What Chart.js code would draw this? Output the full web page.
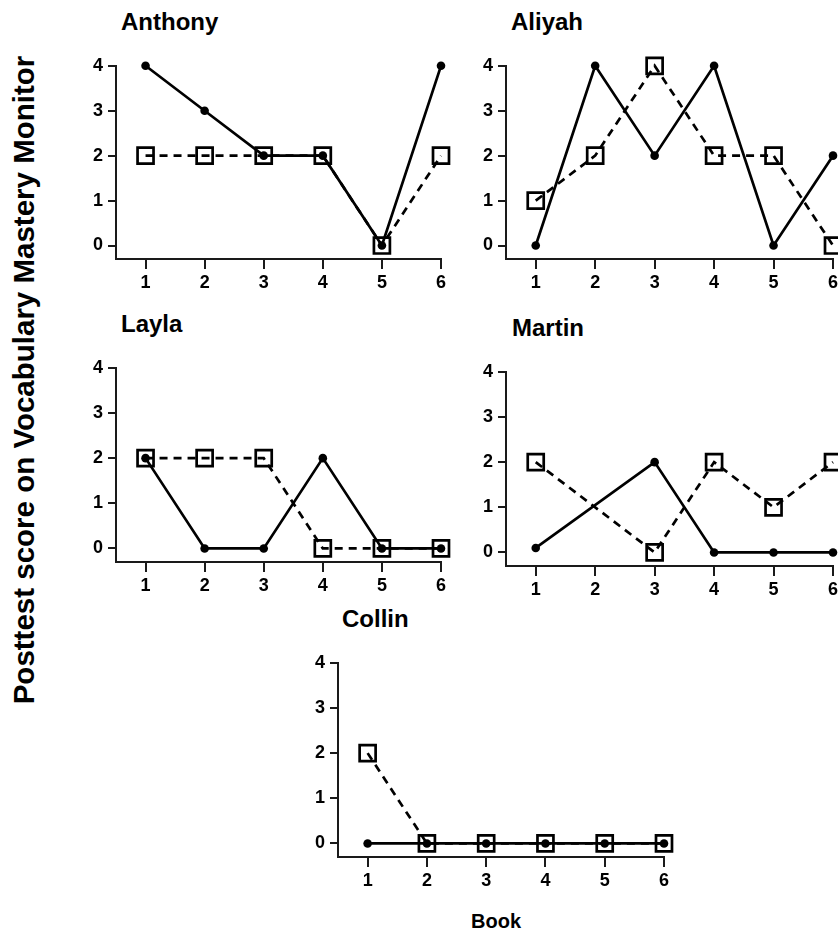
<!DOCTYPE html>
<html>
<head>
<meta charset="utf-8">
<script src="https://cdn.jsdelivr.net/npm/chart.js@4"></script>
<style>
  html, body { margin: 0; padding: 0; background: #fff; width: 838px; height: 932px; overflow: hidden; }
  body { position: relative; font-family: "Liberation Sans", Arial, sans-serif; font-weight: bold; color: #000; }
  .panel { position: absolute; }
  .title { position: absolute; font-size: 24px; line-height: 24px; white-space: nowrap; }
  #ylab { position: absolute; left: 23px; top: 380px; font-size: 29.5px; line-height: 29px; white-space: nowrap;
          transform: translate(-50%, -50%) rotate(-90deg); }
  #xlab { position: absolute; left: 496px; top: 911px; font-size: 20px; line-height: 20px; white-space: nowrap;
          transform: translateX(-50%); }
</style>
</head>
<body>
<div id="ylab">Posttest score on Vocabulary Mastery Monitor</div>
<div id="xlab">Book</div>
<script>
const books = [1, 2, 3, 4, 5, 6];
const yTicks = [0, 1, 2, 3, 4];

const anthonySolid = [4, 3, 2, 2, 0, 4];
const anthonyDashed = [2, 2, 2, 2, 0, 2];
const aliyahSolid = [0, 4, 2, 4, 0, 2];
const aliyahDashed = [1, 2, 4, 2, 2, 0];
const laylaSolid = [2, 0, 0, 2, 0, 0];
const laylaDashed = [2, 2, 2, 0, 0, 0];
const martinSolid = [0.1, null, 2, 0, 0, 0];
const martinDashed = [2, null, 0, 2, 1, 2];
const collinSolid = [0, 0, 0, 0, 0, 0];
const collinDashed = [2, 0, 0, 0, 0, 0];

const font = '"Liberation Sans", Arial, sans-serif';

// chart-area boxes in page pixels (axis lines)
const panels = [
  { name: 'Anthony', solid: anthonySolid, dashed: anthonyDashed, left: 116, right: 441, top: 64, bottom: 259, tx: 121, ty: 10 },
  { name: 'Aliyah', solid: aliyahSolid, dashed: aliyahDashed, left: 506, right: 833, top: 64, bottom: 259, tx: 511, ty: 10 },
  { name: 'Layla', solid: laylaSolid, dashed: laylaDashed, left: 116, right: 441, top: 366, bottom: 562, tx: 121, ty: 312 },
  { name: 'Martin', solid: martinSolid, dashed: martinDashed, left: 506, right: 833, top: 370, bottom: 566, tx: 512, ty: 316 },
  { name: 'Collin', solid: collinSolid, dashed: collinDashed, left: 338, right: 664, top: 661, bottom: 857, tx: 342, ty: 607 },
];

const toPoints = arr => books.map((b, i) => ({ x: b, y: arr[i] }));

function makePanel(p) {
  const padL = 42, padT = 14, padR = 14, padB = 42;
  const div = document.createElement('div');
  div.className = 'panel';
  div.style.left = (p.left - padL) + 'px';
  div.style.top = (p.top - padT) + 'px';
  const canvas = document.createElement('canvas');
  const w = p.right - p.left + padL + padR;
  const h = p.bottom - p.top + padT + padB;
  canvas.width = w; canvas.height = h;
  canvas.style.width = w + 'px'; canvas.style.height = h + 'px';
  div.appendChild(canvas);
  document.body.appendChild(div);

  const t = document.createElement('div');
  t.className = 'title';
  t.style.left = p.tx + 'px';
  t.style.top = p.ty + 'px';
  t.textContent = p.name;
  document.body.appendChild(t);

  new Chart(canvas, {
    type: 'line',
    data: {
      datasets: [
        { label: 'solid', data: toPoints(p.solid), borderColor: '#000', borderWidth: 2.7,
          pointStyle: 'circle', pointRadius: 4.3, pointBackgroundColor: '#000', pointBorderColor: '#000',
          pointBorderWidth: 0, spanGaps: true, clip: false },
        { label: 'dashed', data: toPoints(p.dashed), borderColor: '#000', borderWidth: 2.7, borderDash: [8, 6],
          pointStyle: 'rect', pointRadius: 11.3, pointBackgroundColor: 'rgba(0,0,0,0)', pointBorderColor: '#000',
          pointBorderWidth: 2.7, spanGaps: true, clip: false },
      ],
    },
    options: {
      responsive: false,
      animation: false,
      layout: { padding: { top: padT, right: padR, left: 0, bottom: 0 } },
      plugins: { legend: { display: false }, tooltip: { enabled: false } },
      scales: {
        x: {
          type: 'linear', min: 0.5, max: 6,
          afterBuildTicks: s => { s.ticks = books.map(v => ({ value: v })); },
          afterFit: s => { s.height = padB; },
          grid: { drawOnChartArea: false, drawTicks: true, tickLength: 10, color: '#1a1a1a', lineWidth: 2 },
          border: { display: true, color: '#1a1a1a', width: 2 },
          ticks: { color: '#000', font: { family: font, size: 18, weight: 'bold' }, padding: 3, maxRotation: 0 },
        },
        y: {
          type: 'linear', min: -0.3, max: 4,
          afterBuildTicks: s => { s.ticks = yTicks.map(v => ({ value: v })); },
          afterFit: s => { s.width = padL; },
          grid: { drawOnChartArea: false, drawTicks: true, tickLength: 8, color: '#1a1a1a', lineWidth: 2 },
          border: { display: true, color: '#1a1a1a', width: 2 },
          ticks: { color: '#000', font: { family: font, size: 18, weight: 'bold' }, padding: 5 },
        },
      },
    },
  });
}

panels.forEach(makePanel);
</script>
</body>
</html>
